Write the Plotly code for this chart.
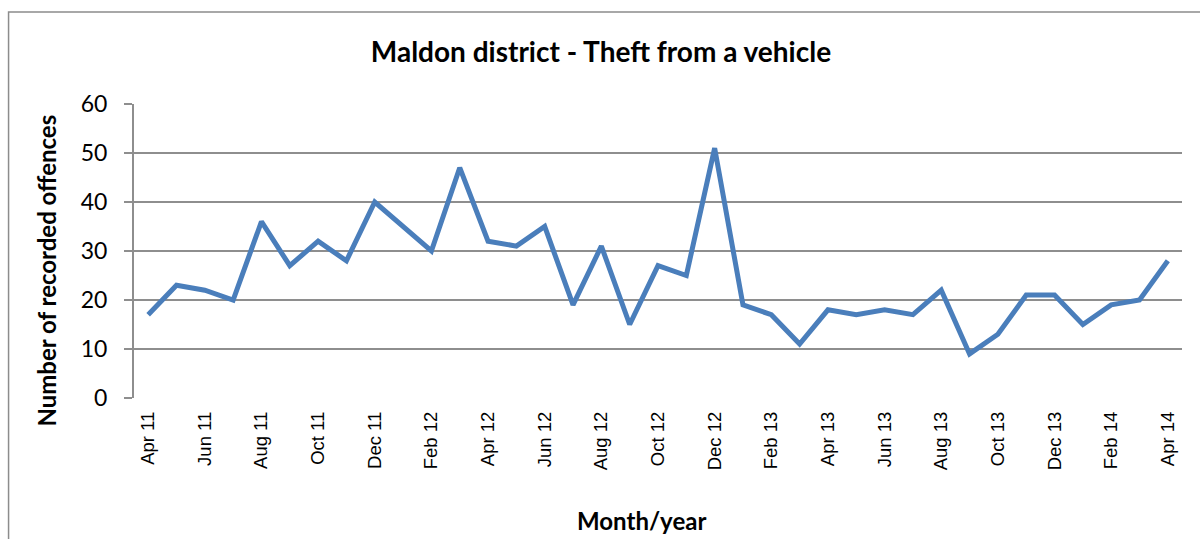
import plotly.graph_objects as go

months = ["Apr 11", "May 11", "Jun 11", "Jul 11", "Aug 11", "Sep 11", "Oct 11", "Nov 11", "Dec 11",
          "Jan 12", "Feb 12", "Mar 12", "Apr 12", "May 12", "Jun 12", "Jul 12", "Aug 12", "Sep 12",
          "Oct 12", "Nov 12", "Dec 12", "Jan 13", "Feb 13", "Mar 13", "Apr 13", "May 13", "Jun 13",
          "Jul 13", "Aug 13", "Sep 13", "Oct 13", "Nov 13", "Dec 13", "Jan 14", "Feb 14", "Mar 14",
          "Apr 14"]
offences = [17, 23, 22, 20, 36, 27, 32, 28, 40,
            35, 30, 47, 32, 31, 35, 19, 31, 15,
            27, 25, 51, 19, 17, 11, 18, 17, 18,
            17, 22, 9, 13, 21, 21, 15, 19, 20,
            28]
tick_labels = months[::2]
y_ticks = [0, 10, 20, 30, 40, 50, 60]

W, H = 1200, 539
L, R, T, B = 133.5, 18, 104, 141
pw, ph = W - L - R, H - T - B

fig = go.Figure()
fig.add_trace(go.Scatter(x=months, y=offences, mode="lines",
                         line=dict(color="#4A7EBB", width=5), hoverinfo="x+y"))

fig.update_layout(
    template="none",
    width=W, height=H,
    margin=dict(l=L, r=R, t=T, b=B, pad=0),
    paper_bgcolor="white", plot_bgcolor="white",
    showlegend=False,
    title=dict(text="<b>Maldon district - Theft from a vehicle</b>",
               x=601 / W, y=1 - 52 / H, xanchor="center", yanchor="middle",
               font=dict(family="Lato", size=28, color="black")),
    xaxis=dict(type="category", categoryorder="array", categoryarray=months,
               range=[-0.5, len(months) - 0.5], automargin=False,
               tickmode="array", tickvals=tick_labels, ticktext=tick_labels,
               tickangle=-90, ticks="", showgrid=False, zeroline=False,
               showline=False, ticklabelstandoff=9,
               tickfont=dict(family="Liberation Sans", size=18.5, color="black")),
    yaxis=dict(range=[0, 60], tickmode="array", tickvals=y_ticks, automargin=False,
               ticks="outside", ticklen=8, tickcolor="#8E8E8E", tickwidth=2,
               showgrid=True, gridcolor="#8E8E8E", gridwidth=2,
               showline=True, linecolor="#8E8E8E", linewidth=2,
               zeroline=False, ticklabelstandoff=12,
               tickfont=dict(family="Lato", size=23, color="black")),
    shapes=[dict(type="rect", xref="paper", yref="paper",
                 x0=(8 - L) / pw, x1=(1215 - L) / pw,
                 y0=(H - B - 560) / ph, y1=(H - B - 12) / ph,
                 line=dict(color="#8C8C8C", width=1.5), fillcolor="rgba(0,0,0,0)", layer="below")],
    annotations=[
        dict(text="<b>Number of recorded offences</b>", xref="paper", yref="paper",
             x=(45 - L) / pw, y=(H - B - 271) / ph, textangle=-90, showarrow=False,
             xanchor="center", yanchor="middle",
             font=dict(family="Lato", size=24, color="black")),
        dict(text="<b>Month/year</b>", xref="paper", yref="paper",
             x=(641 - L) / pw, y=(H - B - 520) / ph, showarrow=False,
             xanchor="center", yanchor="middle",
             font=dict(family="Lato", size=24, color="black")),
    ],
)

fig.write_html("out.html", config={"displayModeBar": False},
               post_script="document.body.style.margin='0';")
